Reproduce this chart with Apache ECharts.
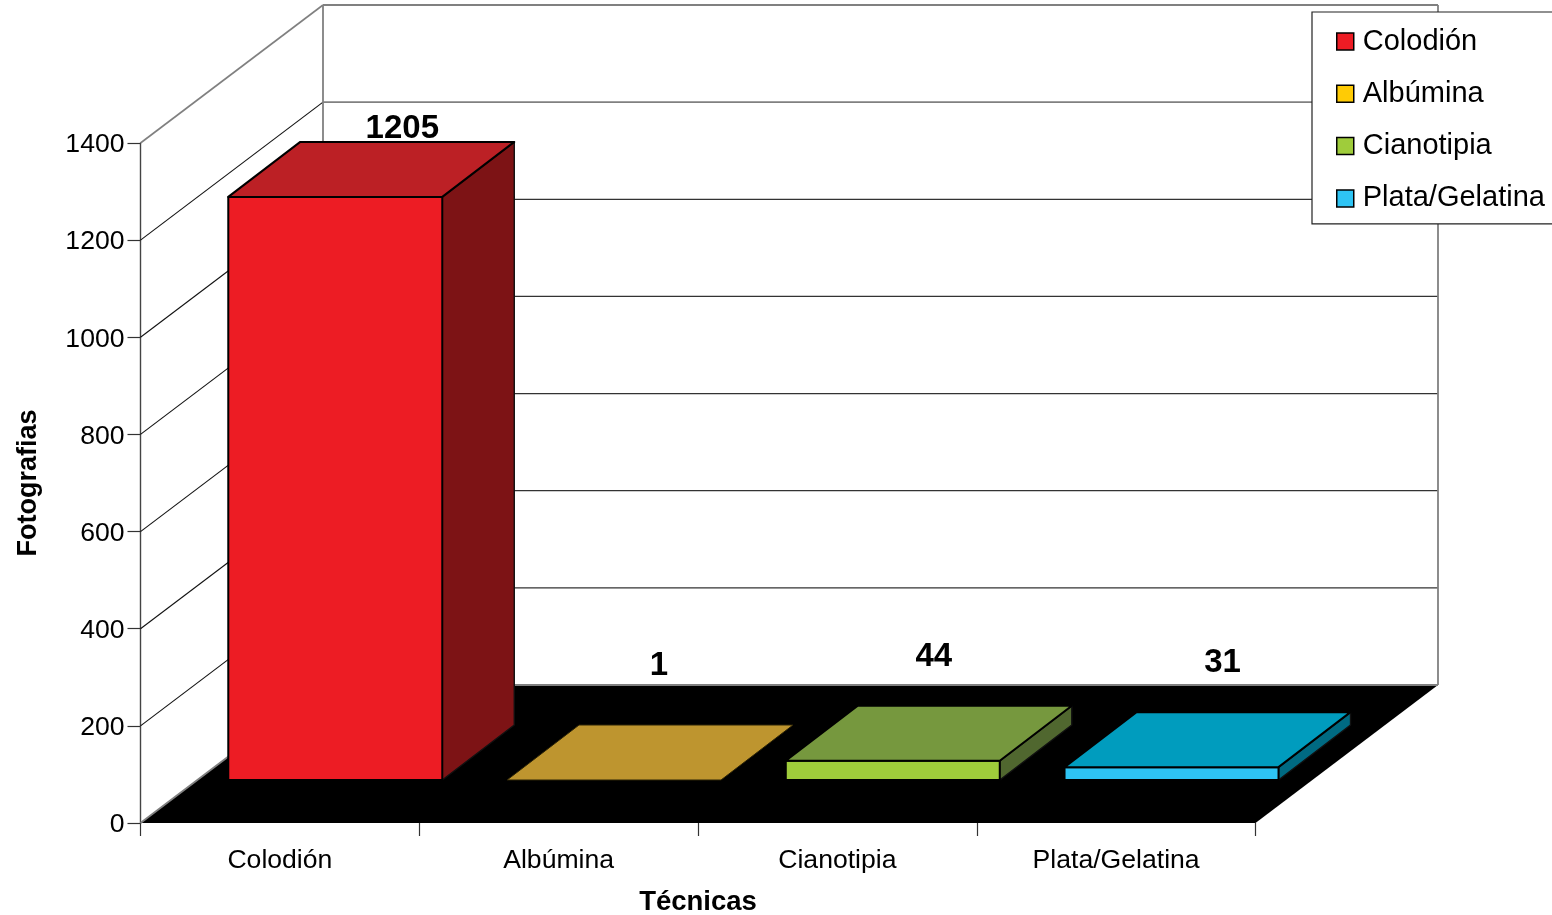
<!DOCTYPE html>
<html>
<head>
<meta charset="utf-8">
<style>html,body{margin:0;padding:0;background:#fff}#c{width:1552px;height:915px}</style>
<script src="https://cdn.jsdelivr.net/npm/echarts@6/dist/echarts.min.js"></script>
</head>
<body>
<div id="c"></div>
<script>
const categories = ['Colodión', 'Albúmina', 'Cianotipia', 'Plata/Gelatina'];
const values = [1205, 1, 44, 31];
const yTicks = [0, 200, 400, 600, 800, 1000, 1200, 1400];

const FONT = '"Liberation Sans", Arial, sans-serif';
const faceColors = ['#ED1C24', '#FFCB05', '#9FCC3B', '#2EC4F4'];
const topColors = ['#BC2025', '#BE952F', '#76983E', '#009CBE'];
const sideColors = ['#7D1315', '#7D6410', '#50672F', '#006A82'];
const DEPTH = { x: 182.5, y: 138 };        // oblique offset of the back wall
const BAR_DEPTH = { x: 72, y: 55 };        // oblique depth of one bar
const BAR_FRONT = { x: 55.4, y: 43 };      // bar front plane relative to the axis plane
const BAR_WIDTH = 214;
const BAR_TOP_TRIM = 2.2;
const labelShift = [[67, -13], [45, -59], [41, -49], [51, -49]];

function renderFrame(params, api) {
  const cs = params.coordSys;
  const tick = api.value(1);
  const y = api.coord([0, tick])[1];
  const x0 = cs.x, x1 = cs.x + cs.width;
  const bx0 = x0 + DEPTH.x, bx1 = x1 + DEPTH.x, by = y - DEPTH.y;
  const heavy = tick >= 1200;
  const backStyle = { stroke: heavy ? '#808080' : '#333', lineWidth: heavy ? 1.8 : 1.2, fill: null };
  const sideStyle = { stroke: tick === 1400 ? '#808080' : '#111', lineWidth: tick === 1400 ? 1.6 : 1.1, fill: null };
  const children = [];
  if (tick === 0) {
    children.push({ type: 'polygon', shape: { points: [[x0, y], [x1, y], [bx1, by], [bx0, by]] },
      style: { fill: '#000', stroke: null } });
    children.push({ type: 'polyline', shape: { points: [[x0, y], [bx0, by], [bx1, by]] },
      style: { stroke: '#808080', lineWidth: 1.8, fill: null } });
  } else {
    children.push({ type: 'line', shape: { x1: x0, y1: y, x2: bx0, y2: by }, style: sideStyle });
    children.push({ type: 'line', shape: { x1: bx0, y1: by, x2: bx1, y2: by }, style: backStyle });
  }
  if (tick === 1400) {
    const floorY = api.coord([0, 0])[1] - DEPTH.y;
    const wall = { stroke: '#808080', lineWidth: 1.8, fill: null };
    children.push({ type: 'line', shape: { x1: bx0, y1: by, x2: bx0, y2: floorY }, style: wall });
    children.push({ type: 'line', shape: { x1: bx1, y1: by, x2: bx1, y2: floorY }, style: wall });
  }
  return { type: 'group', children };
}

function renderBar(i) {
  return function (params, api) {
    const cat = api.value(0), val = api.value(1);
    const top0 = api.coord([cat, val]);
    const base0 = api.coord([cat, 0]);
    const xl = top0[0] + BAR_FRONT.x - BAR_WIDTH / 2;
    const xr = xl + BAR_WIDTH;
    const yb = base0[1] - BAR_FRONT.y;
    const yt = Math.min(yb, top0[1] - BAR_FRONT.y + BAR_TOP_TRIM);
    const dx = BAR_DEPTH.x, dy = BAR_DEPTH.y;
    const edge = { stroke: '#000', lineWidth: 2, lineJoin: 'round' };
    const flat = yb - yt < 1;
    const children = [];
    if (!flat) {
      children.push({ type: 'polygon', shape: { points: [[xr, yt], [xr + dx, yt - dy], [xr + dx, yb - dy], [xr, yb]] },
        style: Object.assign({ fill: sideColors[i] }, edge, { stroke: '#111', lineWidth: 1.4 }) });
      children.push({ type: 'rect', shape: { x: xl, y: yt, width: xr - xl, height: yb - yt },
        style: Object.assign({ fill: faceColors[i] }, edge) });
    }
    children.push({ type: 'polygon', shape: { points: [[xl, yt], [xl + dx, yt - dy], [xr + dx, yt - dy], [xr, yt]] },
      style: Object.assign({ fill: topColors[i] }, edge, flat ? { stroke: '#2a2206', lineWidth: 1 } : {}) });
    children.push({ type: 'text', style: {
      text: String(val),
      x: xl + BAR_WIDTH / 2 + labelShift[i][0],
      y: yt - dy + labelShift[i][1],
      align: 'center', verticalAlign: 'middle',
      font: 'bold 33px ' + FONT, fill: '#000' } });
    return { type: 'group', children };
  };
}

const chart = echarts.init(document.getElementById('c'), null, { renderer: 'canvas' });
chart.setOption({
  animation: false,
  backgroundColor: '#fff',
  grid: { left: 140.5, top: 143, width: 1115, height: 680, containLabel: false, outerBoundsMode: 'none' },
  legend: {
    orient: 'vertical', left: 1312, top: 12,
    data: categories.map(n => ({ name: n, icon: 'rect' })),
    itemWidth: 17, itemHeight: 17, itemGap: 23.3,
    padding: [15, 9, 11, 24],
    backgroundColor: '#fff', borderColor: '#222', borderWidth: 1.2,
    selectedMode: false,
    itemStyle: { borderColor: '#000', borderWidth: 1.5 },
    textStyle: { fontFamily: FONT, fontSize: 29, color: '#000', padding: [3, 0, 0, 4] },
    z: 20
  },
  xAxis: {
    type: 'category', data: categories,
    name: 'Técnicas', nameLocation: 'middle', nameGap: 65,
    nameTextStyle: { fontFamily: FONT, fontSize: 27.5, fontWeight: 'bold', color: '#000' },
    axisLine: { show: false },
    axisTick: { show: true, length: 13, lineStyle: { color: '#333', width: 1.2 } },
    axisLabel: { fontFamily: FONT, fontSize: 26.6, color: '#000', margin: 24, interval: 0 },
    splitLine: { show: false }
  },
  yAxis: {
    type: 'value', min: 0, max: 1400, interval: 200,
    name: 'Fotografias', nameLocation: 'middle', nameGap: 98, nameRotate: 90,
    nameTextStyle: { fontFamily: FONT, fontSize: 27, fontWeight: 'bold', color: '#000' },
    axisLine: { show: true, lineStyle: { color: '#444', width: 1.4 } },
    axisTick: { show: true, length: 13, lineStyle: { color: '#333', width: 1.2 } },
    axisLabel: { color: '#000', margin: 16,
      formatter: v => '{t|' + v + '}',
      rich: { t: { fontFamily: FONT, fontSize: 26.6, color: '#000', padding: [4, 0, 0, 0] } } },
    splitLine: { show: false }
  },
  series: [
    { type: 'custom', name: 'frame', silent: true, z: 1, renderItem: renderFrame,
      encode: { x: 0, y: 1 }, data: yTicks.map(t => [0, t]) }
  ].concat(categories.map((c, i) => ({
    type: 'custom', name: c, z: 3, silent: true, renderItem: renderBar(i),
    itemStyle: { color: faceColors[i] },
    encode: { x: 0, y: 1 }, data: [[i, values[i]]]
  })))
});
</script>
</body>
</html>
